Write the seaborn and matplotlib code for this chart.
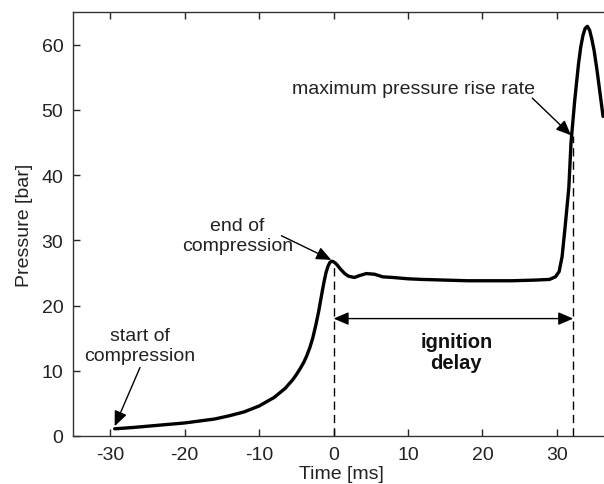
import matplotlib
matplotlib.use("Agg")
import matplotlib.pyplot as plt
import seaborn as sns
import pandas as pd

# ---- data ----
time_ms = [-29.4, -27, -25, -22, -20, -18, -16, -14, -12, -10, -8, -6.5, -5.5, -5,
           -4.5, -4, -3.6, -3.2, -2.8, -2.4, -2, -1.75, -1.5, -1.25, -1, -0.75, -0.5,
           -0.25, 0, 0.25, 0.5, 1, 1.5, 2, 2.8, 3.5, 4.4, 5.5,
           6.6, 8, 10, 12, 15, 18, 21, 24, 27, 29, 29.8, 30.3, 30.7, 31.1, 31.6,
           31.9, 32.4, 32.9, 33.2, 33.5, 33.8, 34.1, 34.4, 34.7, 35.0, 35.4, 35.8,
           36.2]
pressure_bar = [1.1, 1.3, 1.5, 1.8, 2.0, 2.3, 2.6, 3.1, 3.7, 4.6, 5.9, 7.3, 8.6, 9.4,
                10.3, 11.3, 12.3, 13.5, 15.0, 16.9, 19.1, 20.7, 22.3, 23.8, 25.1, 26.0,
                26.6, 26.8, 26.7, 26.5, 26.2, 25.5, 24.9, 24.5, 24.3,
                24.6, 24.9, 24.8, 24.4, 24.3, 24.1, 24.0, 23.9, 23.8, 23.8, 23.8, 23.9,
                24.0, 24.4, 25.2, 27.5, 32.0, 38.0, 45.0, 51.5, 57.0, 59.6, 61.4, 62.5,
                62.8, 62.2, 60.8, 59.1, 56.0, 52.5, 49.0]

ignition_times = [0.0, 32.2]          # end of compression, max pressure rise rate
ignition_pressures = [26.6, 46.0]
delay_arrow_level = 18.0

x_ticks = [-30, -20, -10, 0, 10, 20, 30]
y_ticks = [0, 10, 20, 30, 40, 50, 60]

df = pd.DataFrame({"Time [ms]": time_ms, "Pressure [bar]": pressure_bar})

sns.set_style("ticks")
plt.rcParams["font.family"] = ["Liberation Sans", "DejaVu Sans"]
plt.rcParams["axes.unicode_minus"] = False

fig = plt.figure(figsize=(6.04, 4.85), dpi=100)
ax = fig.add_axes([73 / 604, 48 / 485, 536 / 604, 424 / 485])

sns.lineplot(data=df, x="Time [ms]", y="Pressure [bar]", ax=ax, color="black",
             lw=2.4, sort=False, estimator=None)

# dashed verticals
for t, p in zip(ignition_times, ignition_pressures):
    ax.plot([t, t], [0, p], color="black", lw=1.0, dashes=(6, 3.6))

ax.set_xlim(-35, 37)
ax.set_ylim(0, 65)
ax.set_xticks(x_ticks)
ax.set_yticks(y_ticks)
ax.tick_params(direction="in", length=5, width=1, labelsize=14,
               labelcolor="#222222", top=True, right=False, pad=7)
for s in ["left", "bottom", "top"]:
    ax.spines[s].set_linewidth(1.0)
    ax.spines[s].set_color("#333333")
ax.spines["right"].set_visible(False)
ax.set_xlabel("Time [ms]", fontsize=14, color="#222222", labelpad=2)
ax.set_ylabel("Pressure [bar]", fontsize=14, color="#222222", labelpad=6)

arrow = dict(arrowstyle="-|>,head_length=0.7,head_width=0.3", color="black",
             lw=1.0, mutation_scale=13, shrinkA=0, shrinkB=0)

ax.text(-26.0, 13.9, "start of\ncompression", fontsize=14, ha="center",
        va="center", color="#222222")
ax.annotate("", xy=(-29.4, 1.5), xytext=(-26.0, 10.5), arrowprops=arrow)

ax.text(-12.9, 30.7, "end of\ncompression", fontsize=14, ha="center",
        va="center", color="#222222")
ax.annotate("", xy=(-0.3, 27.0), xytext=(-7.0, 30.7), arrowprops=arrow)

ax.text(-5.6, 53.3, "maximum pressure rise rate", fontsize=14, ha="left",
        va="center", color="#222222")
ax.annotate("", xy=(31.9, 46.1), xytext=(26.7, 51.8), arrowprops=arrow)

ax.annotate("", xy=(ignition_times[0], delay_arrow_level),
            xytext=(ignition_times[1], delay_arrow_level),
            arrowprops=dict(arrowstyle="<|-|>,head_length=0.7,head_width=0.3",
                            color="black", lw=1.0, mutation_scale=13,
                            shrinkA=0, shrinkB=0))
ax.text(16.5, 12.9, "ignition\ndelay", fontsize=14.5, fontweight="bold",
        ha="center", va="center", color="#111111", linespacing=1.15)

fig.savefig("out.png", dpi=100)
